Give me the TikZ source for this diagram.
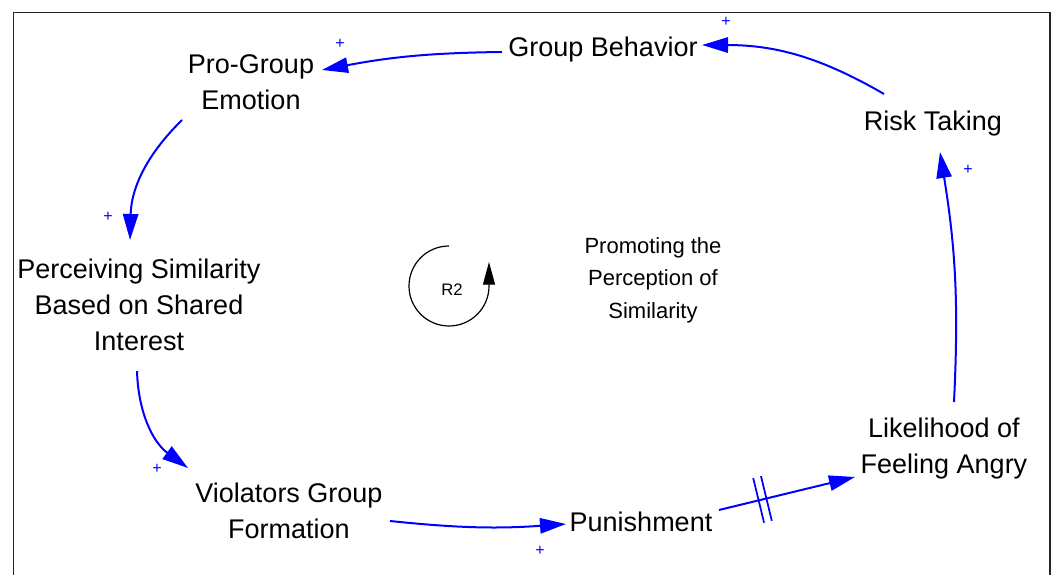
\documentclass[tikz,border=0pt]{standalone}
\usepackage{fontspec}
\setmainfont{Liberation Sans}
\usetikzlibrary{arrows.meta,decorations.markings}
\begin{document}
\begin{tikzpicture}[x=0.75pt,y=0.75pt,
  var/.style={align=center, font=\fontsize{20.25}{27}\selectfont, inner sep=0pt, text=black},
  looptitle/.style={align=center, font=\fontsize{16.5}{24.5}\selectfont, inner sep=0pt, text=black},
  link/.style={draw=blue, line width=1.5pt, -{Triangle[length=19.5pt,width=11.5pt]}},
  pol/.style={text=blue, font=\fontsize{12}{14}\selectfont, inner sep=0pt},
  hashmarks/.style={postaction={decorate, decoration={markings, mark=at position #1 with {\draw[blue, line width=1.3pt, arrows=-] (-4,-23) -- (-4,23) (4,-23) -- (4,23);}}}}
]
\useasboundingbox (0,0) rectangle (1054,575);
\clip (0,0) rectangle (1054,575);
\draw[line width=1.3pt, black!85] (13.5,-10) -- (13.5,562.5) -- (1050,562.5) -- (1050,-10);

% variables
\node[var] (gb)  at (603,525) {Group Behavior};
\node[var] (pge) at (251,493) {Pro-Group\\Emotion};
\node[var] (rt)  at (933,451) {Risk Taking};
\node[var] (lfa) at (944,126) {Likelihood of\\Feeling Angry};
\node[var] (pun) at (641,53)  {Punishment};
\node[var] (vgf) at (289,64)  {Violators Group\\Formation};
\node[var] (psb) at (139,270) {Perceiving Similarity\\Based on Shared\\Interest};
\node[looptitle] (tt) at (653,295) {Promoting the\\Perception of\\Similarity};
\node[font=\fontsize{12.5}{14}\selectfont, inner sep=0pt] (r2) at (452,285) {R2};

% loop symbol
\draw[line width=0.9pt, black, -{Triangle[length=17pt,width=9pt]}]
  ([shift={(-3,44)}]r2.center) arc[start angle=90, end angle=360, radius=30pt] -- ++(0,24);

% links
\draw[link] ([shift={(-101,-2)}]gb.center) to[bend right=5] ([shift={(71,12)}]pge.center);
\draw[link] ([shift={(-69,-38)}]pge.center) to[bend right=22] ([shift={(-9,65)}]psb.center);
\draw[link] ([shift={(-2,-66)}]psb.center) to[bend right=26] ([shift={(-101,43)}]vgf.center);
\draw[link] ([shift={(101,-10)}]vgf.center) to[bend right=5] ([shift={(-75,-2)}]pun.center);
\draw[link, hashmarks=0.32] ([shift={(78,12)}]pun.center) -- ([shift={(-89,-28)}]lfa.center);
\draw[link] ([shift={(10,47)}]lfa.center) to[bend right=6] ([shift={(7,-28)}]rt.center);
\draw[link] ([shift={(-49,30)}]rt.center) to[bend right=15] ([shift={(99,5)}]gb.center);

% polarities
\node[pol] (s1) at (340,531) {+};
\node[pol] (s2) at (108,358) {+};
\node[pol] (s3) at (157,106) {+};
\node[pol] (s4) at (540,24)  {+};
\node[pol] (s5) at (968,405) {+};
\node[pol] (s6) at (726,553) {+};
\end{tikzpicture}
\end{document}
